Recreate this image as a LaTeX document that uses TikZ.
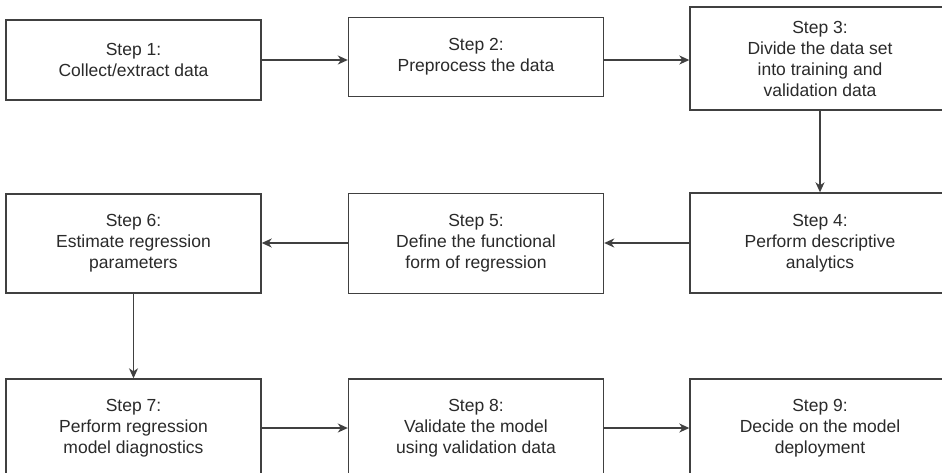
\documentclass[tikz,border=0pt]{standalone}
\usepackage{fontspec}
\setmainfont{Liberation Sans}
\usetikzlibrary{arrows.meta}
\definecolor{linec}{HTML}{404040}
\definecolor{textc}{HTML}{2A2A2A}
\tikzset{
  stepbox/.style={draw=linec, line width=1.4pt, fill=white, rectangle,
    minimum width=255pt, align=center, text=textc,
    font=\fontsize{17.5}{21}\selectfont, inner sep=0pt},
  flow/.style={draw=linec, line width=1.4pt, -{Stealth[length=10pt,width=9pt,inset=3pt]}}
}
\begin{document}
\begin{tikzpicture}[x=1pt,y=-1pt]
\clip (0,0) rectangle (942,472);
\fill[white] (0,0) rectangle (942,472);
% row 1
\node[stepbox, minimum height=80pt] (s1) at (133.5,60) {Step 1:\\Collect/extract data};
\node[stepbox, minimum height=79pt] (s2) at (476,57) {Step 2:\\Preprocess the data};
\node[stepbox, minimum width=260pt, minimum height=103pt] (s3) at (820,58.5) {Step 3:\\Divide the data set\\into training and\\validation data};
% row 2
\node[stepbox, minimum width=260pt, minimum height=100pt] (s4) at (820,243) {Step 4:\\Perform descriptive\\analytics};
\node[stepbox, minimum height=100pt] (s5) at (476,243.5) {Step 5:\\Define the functional\\form of regression};
\node[stepbox, minimum height=99pt] (s6) at (133.5,243.5) {Step 6:\\Estimate regression\\parameters};
% row 3
\node[stepbox, minimum height=98pt] (s7) at (133.5,428) {Step 7:\\Perform regression\\model diagnostics};
\node[stepbox, minimum height=98pt] (s8) at (476,428) {Step 8:\\Validate the model\\using validation data};
\node[stepbox, minimum width=260pt, minimum height=98pt] (s9) at (820,428) {Step 9:\\Decide on the model\\deployment};
% connectors
\draw[flow] (s1.east) -- (s2.west |- s1.east);
\draw[flow] (s2.east |- s1.east) -- (s3.west |- s1.east);
\draw[flow] (s3.south) -- (s4.north);
\draw[flow] (s4.west) -- (s5.east |- s4.west);
\draw[flow] (s5.west |- s4.west) -- (s6.east |- s4.west);
\draw[flow] (s6.south) -- (s7.north);
\draw[flow] (s7.east) -- (s8.west);
\draw[flow] (s8.east) -- (s9.west);
\end{tikzpicture}
\end{document}
